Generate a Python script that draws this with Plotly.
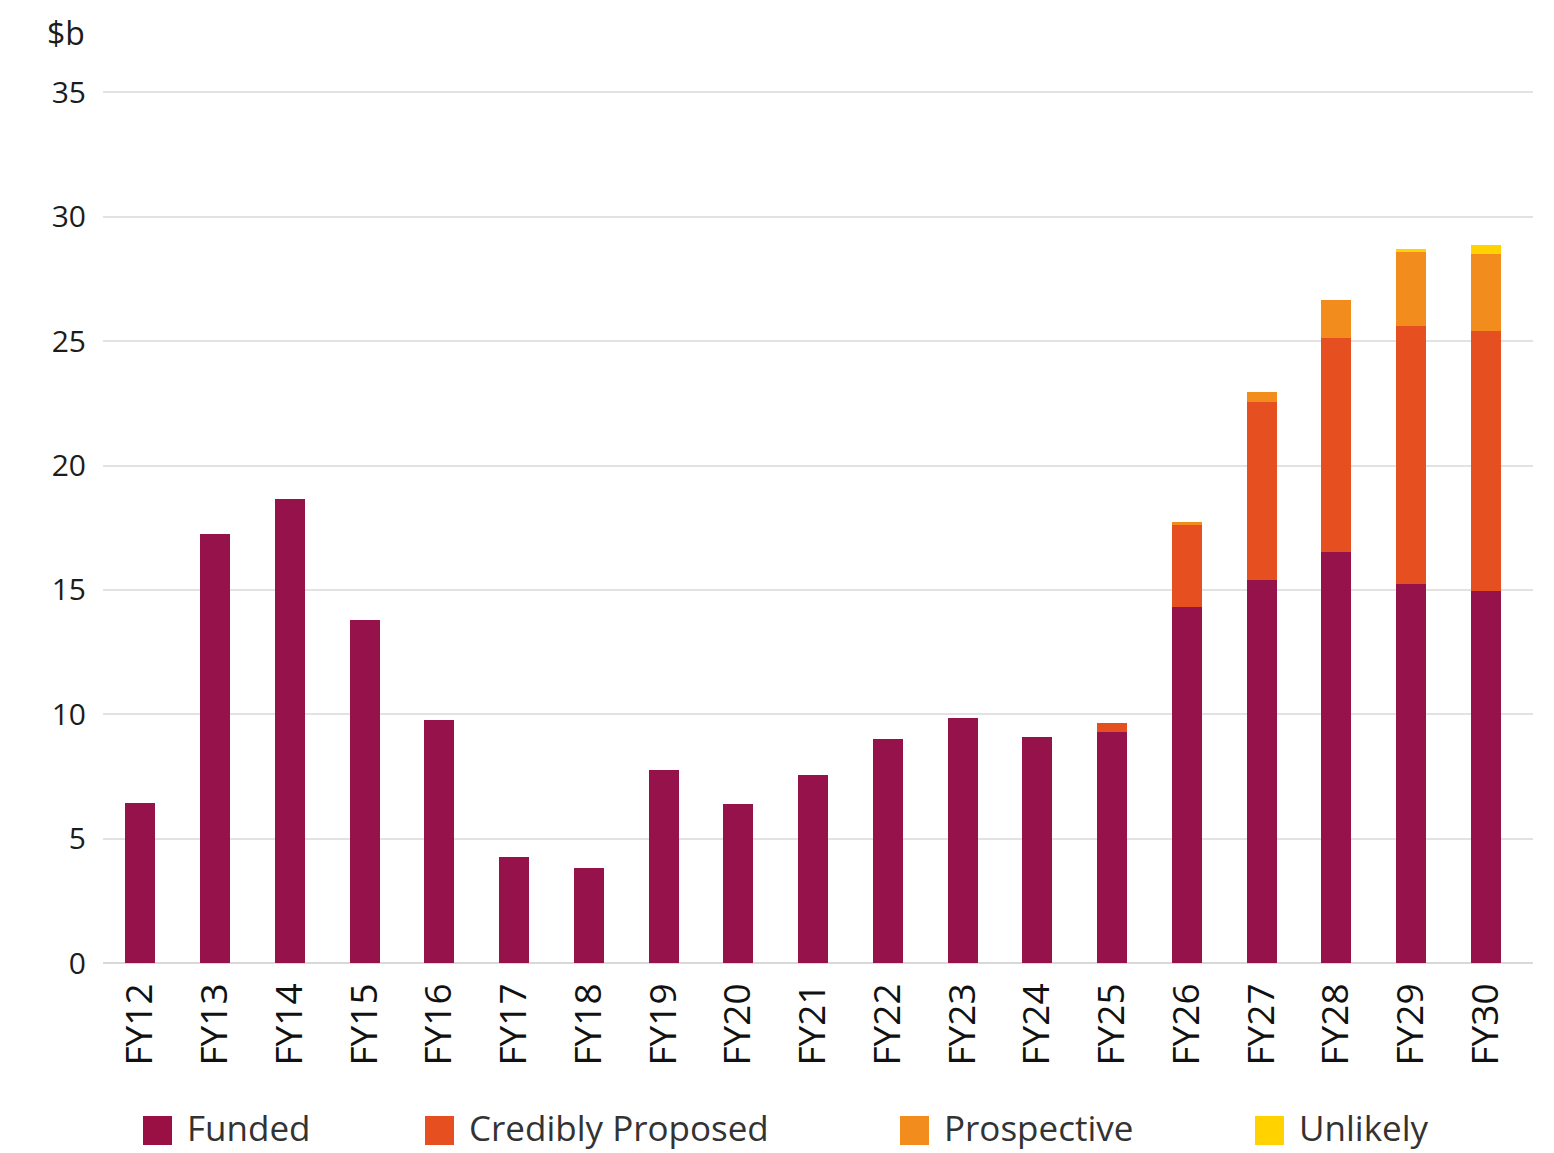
import plotly.graph_objects as go

# Fiscal years and stacked spending ($b) by category
years = ["FY12", "FY13", "FY14", "FY15", "FY16", "FY17", "FY18", "FY19", "FY20", "FY21",
         "FY22", "FY23", "FY24", "FY25", "FY26", "FY27", "FY28", "FY29", "FY30"]
funded = [6.42, 17.25, 18.65, 13.8, 9.77, 4.26, 3.82, 7.76, 6.4, 7.56,
          9.01, 9.86, 9.09, 9.3, 14.32, 15.41, 16.52, 15.25, 14.96]
credibly_proposed = [0, 0, 0, 0, 0, 0, 0, 0, 0, 0,
                     0, 0, 0, 0.35, 3.3, 7.14, 8.61, 10.35, 10.46]
prospective = [0, 0, 0, 0, 0, 0, 0, 0, 0, 0,
               0, 0, 0, 0, 0.13, 0.4, 1.54, 2.97, 3.08]
unlikely = [0, 0, 0, 0, 0, 0, 0, 0, 0, 0,
            0, 0, 0, 0, 0, 0, 0, 0.14, 0.38]

series = [
    ("Funded", funded, "#95124A"),
    ("Credibly Proposed", credibly_proposed, "#E65020"),
    ("Prospective", prospective, "#F28C1C"),
    ("Unlikely", unlikely, "#FFD200"),
]
y_ticks = [0, 5, 10, 15, 20, 25, 30, 35]

FONT = "'Open Sans', Lato, sans-serif"
TEXT = "#1c1c1c"

W, H = 1554, 1153
L, R, T, B = 103, 21, 90, 190
PW, PH = W - L - R, H - T - B

fig = go.Figure()
for name, vals, color in series:
    fig.add_trace(go.Bar(
        x=years, y=vals, name=name,
        marker=dict(color=color, line=dict(width=0)),
        showlegend=False,
    ))

# Legend drawn as large swatches with labels beneath the axis
def px_x(px):
    return (px - L) / PW

def px_y(py):
    return (T + PH - py) / PH

legend_items = [("Funded", "#9A0F44", 143), ("Credibly Proposed", "#E65020", 425),
                ("Prospective", "#F28C1C", 900), ("Unlikely", "#FFD200", 1255)]
for label, color, x0 in legend_items:
    fig.add_shape(type="rect", xref="paper", yref="paper",
                  x0=px_x(x0), x1=px_x(x0 + 29), y0=px_y(1145), y1=px_y(1116),
                  fillcolor=color, line=dict(width=0))
    fig.add_annotation(xref="paper", yref="paper", x=px_x(x0 + 42), y=px_y(1127),
                       text=label, showarrow=False, xanchor="left", yanchor="middle",
                       font=dict(family=FONT, size=35, color="#333333"))

# Unit label above the value axis
fig.add_annotation(xref="paper", yref="paper", x=px_x(87), y=px_y(32),
                   text="$b", showarrow=False, xanchor="right", yanchor="middle",
                   font=dict(family=FONT, size=32, color=TEXT))

fig.update_layout(
    width=W, height=H,
    barmode="stack", bargap=0.6,
    margin=dict(l=L, r=R, t=T, b=B),
    paper_bgcolor="white", plot_bgcolor="white",
    font=dict(family=FONT, color=TEXT),
    xaxis=dict(
        range=[-0.5, 18.63], tickangle=-90,
        tickfont=dict(family=FONT, size=37, color="#111111"),
        showgrid=False, showline=False, ticks="",
        ticklabelstandoff=12,
    ),
    yaxis=dict(
        range=[0, 35.1], tickvals=y_ticks,
        tickfont=dict(family=FONT, size=30, color=TEXT),
        showgrid=True, gridcolor="#e2e2e2", gridwidth=2,
        zeroline=True, zerolinecolor="#d9d9d9", zerolinewidth=2,
        showline=False, ticks="", ticklabelstandoff=16,
    ),
)

fig.write_html("out.html")
